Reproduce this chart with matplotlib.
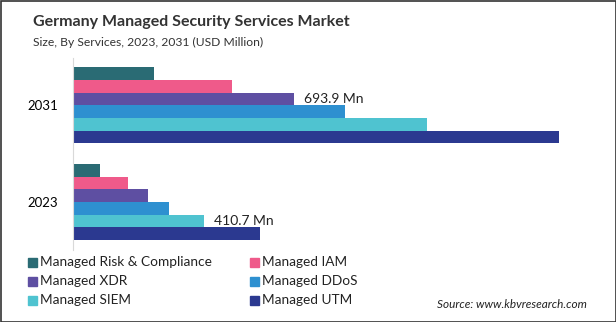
import numpy as np
import matplotlib.pyplot as plt
from matplotlib.patches import Rectangle

plt.rcParams['font.family'] = ['Lato', 'DejaVu Sans']

# data (USD Million)
years = ['2023', '2031']
services = ['Managed Risk & Compliance', 'Managed IAM', 'Managed XDR',
            'Managed DDoS', 'Managed SIEM', 'Managed UTM']
colors = ['#2a6b74', '#ef5a8a', '#5e4fa2', '#2e90d0', '#4fc3d0', '#2b3990']
values_2023 = [85, 173, 235, 301, 410.7, 587]
values_2031 = [254, 499, 693.9, 853, 1110, 1525]

# labelled bars: (year index, service index, text)
labels = [(1, 2, '693.9 Mn'), (0, 4, '410.7 Mn')]

fig = plt.figure(figsize=(6.16, 3.22), dpi=100)
ax = fig.add_axes([73/616, 1 - 250/322, (600 - 73)/616, 192/322])

h = 0.131
ypos = np.arange(len(years))
data = np.array([values_2023, values_2031])
for i, name in enumerate(services):
    off = (2.5 - i) * h
    ax.barh(ypos + off, data[:, i], height=h, color=colors[i], label=name)

for yi, si, txt in labels:
    ax.text(data[yi, si] + 30, ypos[yi] + (2.5 - si) * h, txt,
            va='center', ha='left', fontsize=10, color='#222222')

ax.set_xlim(0, 1653)
ax.set_ylim(-0.495, 1.49)
ax.set_yticks(ypos)
ax.set_yticklabels(years, fontsize=9.5)
ax.set_xticks([])
ax.tick_params(axis='y', length=0, pad=11)
for s in ['top', 'right', 'bottom']:
    ax.spines[s].set_visible(False)
ax.spines['left'].set_color('#d9d9d9')

fig.text(33/616, 1 - 22/322, 'Germany Managed Security Services Market',
         fontsize=11.5, fontweight='bold', color='#333333', va='center')
fig.text(33/616, 1 - 42/322, 'Size, By Services, 2023, 2031 (USD Million)',
         fontsize=8.7, color='#333333', va='center')

# legend drawn by hand: two columns, three rows
order = [0, 2, 4, 1, 3, 5]
for k, si in enumerate(order):
    col, row = divmod(k, 3)
    x0 = [28, 250][col] / 616
    yc = 1 - (262 + row * 19) / 322
    fig.patches.append(Rectangle((x0, yc - 4.5/322), 9/616, 9/322,
                                 transform=fig.transFigure, color=colors[si]))
    fig.text(x0 + 12/616, yc, services[si], fontsize=9.8, color='#222222',
             va='center')

fig.text(587/616, 1 - 305/322, 'Source: www.kbvresearch.com', fontsize=8.5,
         style='italic', ha='right', va='center', color='#222222')

fig.patches.append(Rectangle((0.5/616, 0.5/322), 615/616, 321/322, fill=False,
                             edgecolor='#333333', linewidth=1.2,
                             transform=fig.transFigure))

fig.savefig('out.png', dpi=100)
